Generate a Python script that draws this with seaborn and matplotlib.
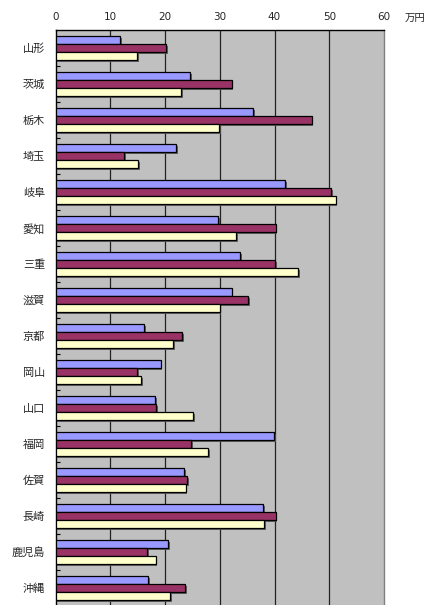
import matplotlib
matplotlib.use("Agg")
import matplotlib.pyplot as plt
import matplotlib.patheffects as pe
import seaborn as sns
import pandas as pd
import numpy as np

prefectures = ["山形", "茨城", "栃木", "埼玉", "岐阜", "愛知", "三重", "滋賀",
               "京都", "岡山", "山口", "福岡", "佐賀", "長崎", "鹿児島", "沖縄"]
series_names = ["系列1", "系列2", "系列3"]
series1 = [11.8, 24.6, 36.1, 22.0, 41.9, 29.7, 33.7, 32.2, 16.2, 19.2, 18.2, 39.9, 23.5, 37.9, 20.6, 16.9]
series2 = [20.2, 32.2, 46.8, 12.5, 50.3, 40.2, 40.1, 35.2, 23.1, 14.9, 18.4, 24.8, 24.0, 40.2, 16.7, 23.7]
series3 = [14.9, 22.9, 29.9, 15.1, 51.2, 33.0, 44.3, 30.0, 21.5, 15.6, 25.1, 27.9, 23.8, 38.1, 18.3, 21.0]
colors = ["#9999FF", "#993366", "#FFFFCC"]
xticks = [0, 10, 20, 30, 40, 50, 60]
unit_label = "万円"

rows = []
for name, vals in zip(series_names, [series1, series2, series3]):
    for p, v in zip(prefectures, vals):
        rows.append({"pref": p, "series": name, "value": v})
df = pd.DataFrame(rows)

sns.set_theme(style="white")
plt.rcParams["font.family"] = ["Noto Sans CJK JP", "DejaVu Sans"]

fig = plt.figure(figsize=(4.33, 6.05), dpi=100)
ax = fig.add_axes([55.5 / 433, 1 - 606 / 605, (384 - 55.5) / 433, 576 / 605])
ax.set_facecolor("#C0C0C0")

sns.barplot(data=df, y="pref", x="value", hue="series", order=prefectures,
            hue_order=series_names, palette=colors, orient="h", width=0.66,
            gap=0, edgecolor="black", linewidth=0.9, saturation=1,
            legend=False, ax=ax, zorder=3)

for patch in ax.patches:
    patch.set_path_effects([pe.SimplePatchShadow(offset=(1.2, -1.2), shadow_rgbFace="#555555", alpha=0.9), pe.Normal()])

ax.set_xlim(0, 60)
ax.set_ylim(len(prefectures) - 0.5, -0.5)
ax.xaxis.tick_top()
ax.set_xticks(xticks)
ax.set_xticklabels([str(t) for t in xticks], fontsize=7.5, family=["DejaVu Sans"])
ax.tick_params(axis="x", length=0, pad=6)
for x in xticks[1:-1]:
    ax.axvline(x, color="#222222", linewidth=0.9, zorder=1)

ax.set_yticks(range(len(prefectures)))
ax.set_yticklabels(prefectures, fontsize=8)
ax.tick_params(axis="y", which="major", length=0, pad=7.5)
ax.set_yticks(np.arange(0.5, len(prefectures) - 0.5, 1), minor=True)
ax.tick_params(axis="y", which="minor", direction="in", length=3, width=0.8, color="black", left=True)

ax.set_xlabel("")
ax.set_ylabel("")
for side in ["top", "left"]:
    ax.spines[side].set_color("black")
    ax.spines[side].set_linewidth(1.0)
ax.spines["right"].set_color("#808080")
ax.spines["right"].set_linewidth(1.0)
ax.spines["bottom"].set_visible(False)

fig.text(415 / 433, 1 - 18 / 605, unit_label, fontsize=7.5, ha="center", va="center")

fig.savefig("out.png", dpi=100)
